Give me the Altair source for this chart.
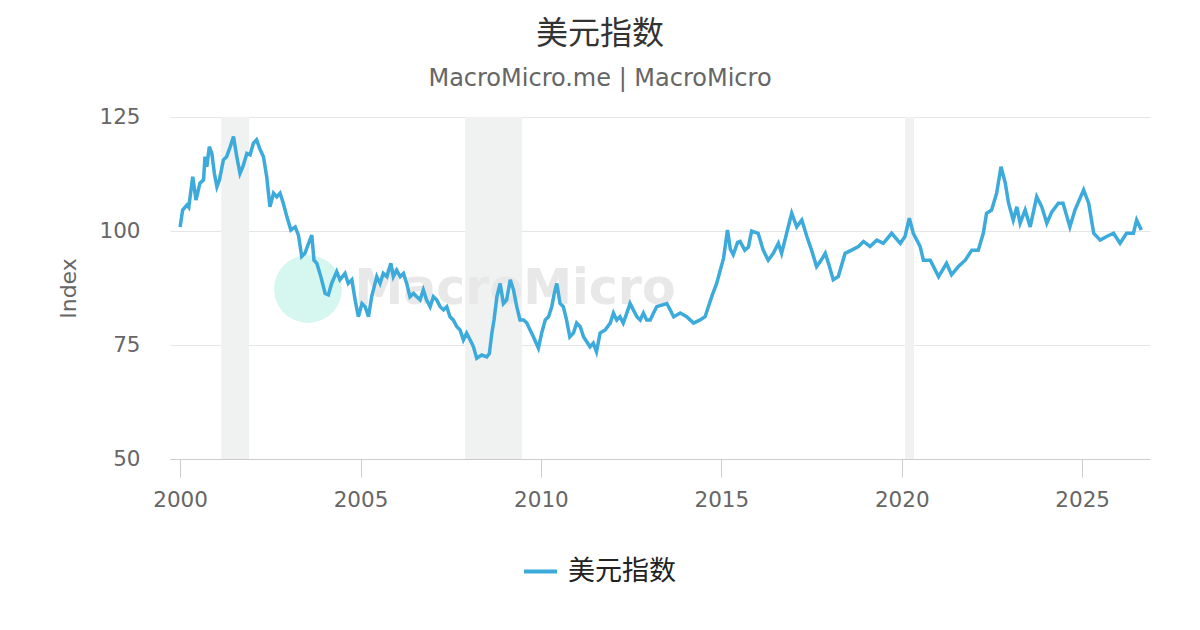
import altair as alt
import pandas as pd

years = [2000.00, 2000.07, 2000.19, 2000.24, 2000.35, 2000.44, 2000.55, 2000.65, 2000.69, 2000.74,
         2000.81, 2000.88, 2000.95, 2001.02, 2001.09, 2001.20, 2001.29, 2001.39, 2001.48, 2001.57,
         2001.66, 2001.74, 2001.85, 2001.94, 2002.03, 2002.12, 2002.22, 2002.31, 2002.40, 2002.49,
         2002.59, 2002.68, 2002.77, 2002.86, 2002.96, 2003.07, 2003.19, 2003.28, 2003.37, 2003.46,
         2003.56, 2003.65, 2003.71, 2003.79, 2003.90, 2004.02, 2004.11, 2004.20, 2004.34, 2004.43,
         2004.57, 2004.66, 2004.76, 2004.85, 2004.94, 2005.04, 2005.13, 2005.22, 2005.31, 2005.45,
         2005.54, 2005.63, 2005.73, 2005.84, 2005.91, 2006.00, 2006.10, 2006.19, 2006.28, 2006.37,
         2006.47, 2006.56, 2006.65, 2006.74, 2006.83, 2006.93, 2007.02, 2007.11, 2007.21, 2007.30,
         2007.39, 2007.48, 2007.57, 2007.67, 2007.76, 2007.85, 2007.94, 2008.04, 2008.13, 2008.22,
         2008.36, 2008.50, 2008.57, 2008.64, 2008.70, 2008.78, 2008.87, 2008.96, 2009.05, 2009.15,
         2009.24, 2009.33, 2009.42, 2009.52, 2009.61, 2009.70, 2009.79, 2009.93, 2010.02, 2010.12,
         2010.21, 2010.30, 2010.37, 2010.44, 2010.53, 2010.62, 2010.71, 2010.80, 2010.90, 2010.99,
         2011.09, 2011.18, 2011.27, 2011.36, 2011.45, 2011.54, 2011.64, 2011.78, 2011.92, 2012.01,
         2012.10, 2012.19, 2012.28, 2012.38, 2012.47, 2012.56, 2012.66, 2012.75, 2012.84, 2012.93,
         2013.03, 2013.12, 2013.21, 2013.49, 2013.68, 2013.86, 2014.04, 2014.23, 2014.41, 2014.55,
         2014.64, 2014.75, 2014.87, 2015.06, 2015.17, 2015.25, 2015.33, 2015.45, 2015.52, 2015.65,
         2015.75, 2015.84, 2016.02, 2016.16, 2016.30, 2016.44, 2016.58, 2016.67, 2016.81, 2016.95,
         2017.09, 2017.23, 2017.37, 2017.50, 2017.64, 2017.76, 2017.88, 2017.97, 2018.10, 2018.24,
         2018.43, 2018.61, 2018.80, 2018.94, 2019.12, 2019.31, 2019.49, 2019.72, 2019.96, 2020.09,
         2020.21, 2020.32, 2020.51, 2020.60, 2020.79, 2021.02, 2021.24, 2021.38, 2021.57, 2021.76,
         2021.94, 2022.12, 2022.26, 2022.35, 2022.49, 2022.63, 2022.75, 2022.87, 2022.96, 2023.09,
         2023.19, 2023.28, 2023.42, 2023.56, 2023.74, 2023.88, 2024.02, 2024.16, 2024.34, 2024.47,
         2024.66, 2024.80, 2025.04, 2025.18, 2025.32, 2025.50, 2025.68, 2025.87, 2026.05, 2026.23,
         2026.42, 2026.51, 2026.64]

values = [100.9, 104.6, 105.7, 105.2, 111.9, 106.8, 110.5, 111.2, 116.3, 114.1,
          118.5, 117.0, 112.6, 109.7, 111.2, 115.6, 116.3, 118.5, 120.7, 116.3,
          112.6, 114.1, 117.0, 116.7, 119.2, 120.0, 117.8, 116.3, 111.9, 105.3,
          108.3, 107.5, 108.3, 106.1, 103.1, 100.2, 100.9, 99.1, 94.4, 95.1,
          97.3, 99.1, 93.6, 92.9, 90.0, 86.3, 86.0, 88.5, 91.1, 89.3,
          90.7, 88.5, 89.3, 84.9, 81.2, 84.1, 83.4, 81.2, 85.6, 90.0,
          88.5, 90.7, 90.0, 92.9, 90.0, 91.4, 90.0, 90.7, 88.5, 85.6,
          86.3, 85.6, 84.9, 87.1, 84.9, 83.4, 85.6, 84.9, 83.4, 82.7,
          83.4, 81.2, 80.5, 79.0, 78.3, 76.1, 77.6, 76.1, 74.6, 72.1,
          72.8, 72.4, 73.1, 77.6, 80.5, 85.6, 88.5, 84.1, 84.9, 89.3,
          87.1, 83.4, 80.5, 80.5, 79.8, 78.3, 76.8, 74.3, 77.6, 80.5,
          81.2, 83.4, 86.3, 88.5, 84.1, 83.4, 80.5, 76.8, 77.6, 79.8,
          79.0, 76.8, 75.7, 74.6, 75.4, 73.5, 77.6, 78.3, 79.8, 82.0,
          80.5, 81.2, 79.8, 82.0, 84.1, 82.7, 81.2, 80.5, 82.0, 80.5,
          80.5, 82.0, 83.4, 84.1, 81.2, 82.0, 81.2, 79.8, 80.5, 81.2,
          83.4, 86.0, 88.5, 94.0, 100.2, 96.0, 94.8, 97.5, 97.7, 95.8,
          96.5, 100.0, 99.5, 95.8, 93.6, 95.1, 97.3, 95.1, 99.5, 103.9,
          100.9, 102.4, 98.8, 95.8, 92.2, 93.5, 95.1, 92.9, 89.3, 90.0,
          95.1, 95.8, 96.6, 97.7, 96.6, 98.0, 97.3, 99.5, 97.3, 98.8,
          102.8, 99.5, 96.6, 93.6, 93.6, 90.0, 92.9, 90.4, 92.2, 93.6,
          95.8, 95.8, 99.5, 103.9, 104.6, 108.3, 114.1, 110.5, 106.1, 102.4,
          105.3, 101.7, 104.6, 100.9, 107.5, 105.3, 101.7, 104.2, 106.1, 106.1,
          100.9, 104.6, 109.0, 106.1, 99.5, 98.0, 98.8, 99.5, 97.3, 99.5,
          99.5, 102.4, 100.2]

rec_start = [2001.14, 2007.90, 2020.09]
rec_end = [2001.91, 2009.48, 2020.34]

series_name = "美元指数"
x_ticks = [2000, 2005, 2010, 2015, 2020, 2025]
y_ticks = [50, 75, 100, 125]

df = pd.DataFrame({"year": years, "value": values, "series": [series_name] * len(years)})
df_rec = pd.DataFrame({"start": rec_start, "end": rec_end})

FONT = "DejaVu Sans, Noto Sans CJK SC"
CJK = "Noto Sans CJK SC"

xscale = alt.Scale(domain=[1999.72, 2026.88], nice=False, zero=False)
yscale = alt.Scale(domain=[50, 125], nice=False, zero=False)

bands = alt.Chart(df_rec).mark_rect(color="#f0f2f2").encode(
    x=alt.X("start:Q", scale=xscale),
    x2="end:Q",
    y=alt.value(0),
    y2=alt.value(342),
)

wm_circle = alt.Chart(alt.Data(values=[{}])).mark_point(
    shape="circle", filled=True, color="#d6f6f0", size=4600, opacity=1
).encode(x=alt.value(138), y=alt.value(172))

wm_text = alt.Chart(alt.Data(values=[{}])).mark_text(
    text="MacroMicro", font="DejaVu Sans", fontWeight="bold", fontSize=49,
    color="#e8e8e8", align="center", baseline="middle"
).encode(x=alt.value(345), y=alt.value(172))

line = alt.Chart(df).mark_line(strokeWidth=3.5, interpolate="linear").encode(
    x=alt.X("year:Q", scale=xscale,
            axis=alt.Axis(values=x_ticks, format="d", title=None, grid=False,
                          labelFontSize=21.5, labelColor="#666666", labelFont=FONT,
                          tickSize=18, tickColor="#cccccc", domainColor="#cccccc",
                          labelPadding=12, labelFlush=False)),
    y=alt.Y("value:Q", scale=yscale,
            axis=alt.Axis(values=y_ticks, title="Index", grid=True, gridColor="#e6e6e6",
                          domain=False, ticks=False, labelFontSize=21.5, labelColor="#666666",
                          labelFont=FONT, labelPadding=30, titleFontSize=22,
                          titleColor="#666666", titleFont=FONT, titleFontWeight="normal",
                          titlePadding=18)),
    color=alt.Color("series:N", scale=alt.Scale(range=["#3caada"]),
                    legend=alt.Legend(title=None, orient="none", legendX=352, legendY=436,
                                      symbolType="stroke", symbolSize=1089,
                                      symbolStrokeWidth=4, labelFontSize=27,
                                      labelFont=CJK, labelColor="#222222", labelOffset=9)),
)

chart = alt.layer(bands, wm_circle, wm_text, line).properties(
    width=980,
    height=342,
    title=alt.TitleParams(text="美元指数", subtitle="MacroMicro.me | MacroMicro",
                          anchor="middle", dx=-60, fontSize=32, font=CJK,
                          fontWeight="normal", color="#333333",
                          subtitleFont="DejaVu Sans", subtitleFontSize=24,
                          subtitleColor="#666666", subtitlePadding=16, offset=14),
    autosize=alt.AutoSizeParams(type="none"),
    padding={"left": 162, "top": 109, "right": 30, "bottom": 150},
).configure(background="white").configure_view(strokeWidth=0, stroke="transparent")

chart.save("out.html", embed_options={"renderer": "svg", "actions": False})
